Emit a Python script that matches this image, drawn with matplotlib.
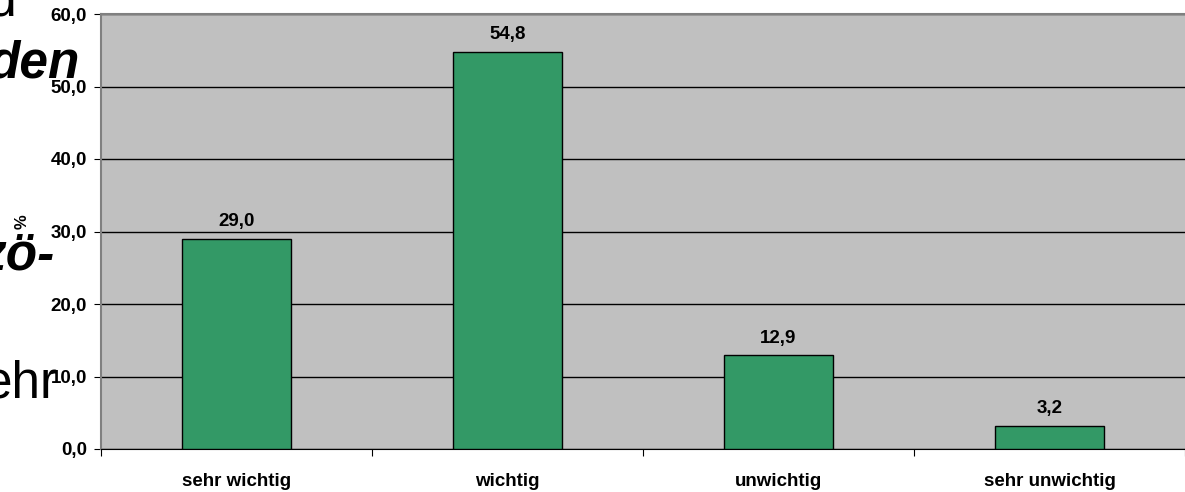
import matplotlib.pyplot as plt
import numpy as np

plt.rcParams['font.family'] = ['Liberation Sans', 'DejaVu Sans']

# Daten
kategorien = ['sehr wichtig', 'wichtig', 'unwichtig', 'sehr unwichtig']
prozent = [29.0, 54.8, 12.9, 3.2]
y_ticks = [0, 10, 20, 30, 40, 50, 60]

fig = plt.figure(figsize=(11.85, 4.92), dpi=100)
ax = fig.add_axes([101 / 1185, 43 / 492, 1084 / 1185, 435 / 492])
ax.set_facecolor('#C0C0C0')

x = np.arange(len(kategorien))
ax.bar(x, prozent, width=0.4, color='#339966', edgecolor='black', linewidth=1, zorder=3)

# Wertebeschriftung über den Balken
for xi, v in zip(x, prozent):
    ax.annotate(f"{v:.1f}".replace('.', ','), (xi, v), xytext=(0, 6), textcoords='offset points',
                ha='center', va='bottom', fontsize=13.5, fontweight='bold')

ax.set_xlim(-0.5, len(kategorien) - 0.5)
ax.set_ylim(0, 60)
ax.set_yticks(y_ticks)
ax.set_yticklabels([f"{t:.1f}".replace('.', ',') for t in y_ticks], fontsize=13.5, fontweight='bold')
ax.yaxis.grid(True, color='black', linewidth=1)
ax.set_axisbelow(True)

# Kategorien-Trennstriche als Ticks, Beschriftung in der Mitte
ax.set_xticks(np.arange(-0.5, len(kategorien)), minor=False)
ax.set_xticklabels([])
ax.set_xticks(x, minor=True)
ax.set_xticklabels(kategorien, minor=True, fontsize=13.5, fontweight='bold')
ax.tick_params(axis='x', which='minor', length=0, pad=17)
ax.tick_params(axis='x', which='major', length=5, direction='out')
ax.tick_params(axis='y', length=5, direction='out', pad=5)

for s in ['top', 'left']:
    ax.spines[s].set_color('#808080')
    ax.spines[s].set_linewidth(1.5)
ax.spines['right'].set_visible(False)
ax.spines['bottom'].set_color('black')

fig.text(22 / 1185, 1 - 222 / 492, '%', rotation=90, ha='center', va='center', fontsize=12, fontweight='bold')

# Reste des Folientextes links
fig.text(17 / 1185, 1 - 15 / 492, 'und', ha='right', va='baseline', fontsize=37)
fig.text(80 / 1185, 1 - 78 / 492, 'den', ha='right', va='baseline', fontsize=37,
         fontweight='bold', fontstyle='italic')
fig.text(54 / 1185, 1 - 270 / 492, 'zö-', ha='right', va='baseline', fontsize=37,
         fontweight='bold', fontstyle='italic')
fig.text(58 / 1185, 1 - 398 / 492, 'ehr', ha='right', va='baseline', fontsize=37)

fig.savefig('out.png', dpi=100)
